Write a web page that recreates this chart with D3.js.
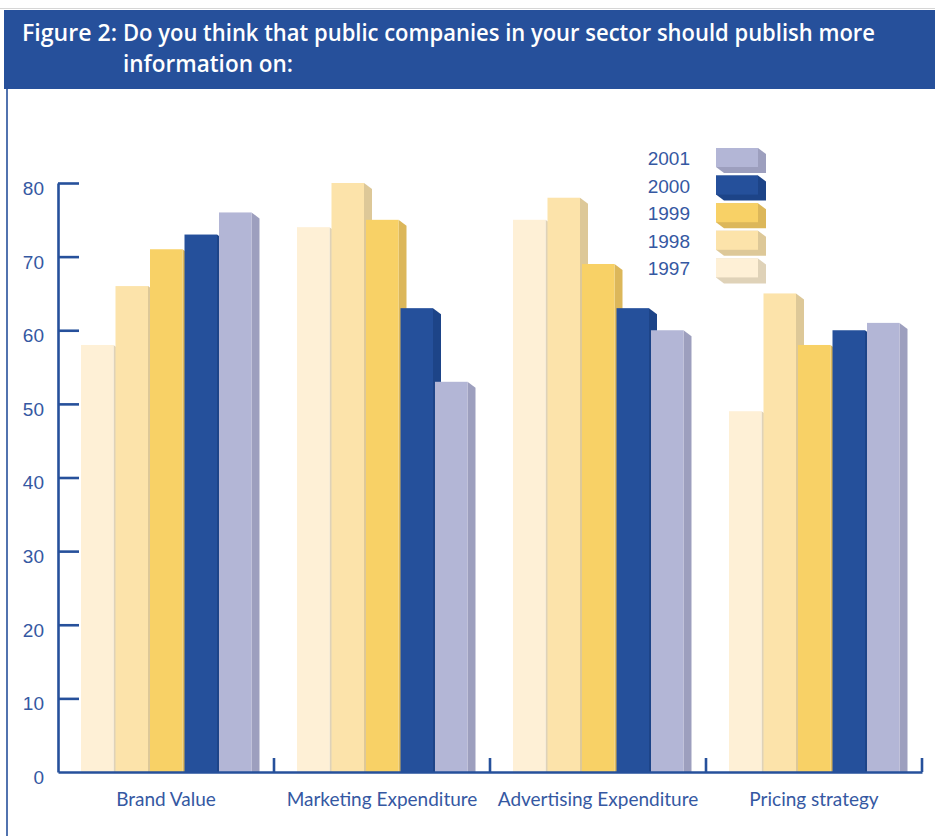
<!DOCTYPE html>
<html>
<head>
<meta charset="utf-8">
<script src="https://cdn.jsdelivr.net/npm/d3@7/dist/d3.min.js"></script>
<style>
  html, body { margin: 0; padding: 0; background: #ffffff; }
  svg { display: block; }
</style>
</head>
<body>
<svg id="chart" width="935" height="836"></svg>
<script>
// Survey answers (% saying "yes"), one array per survey year
const categories = ["Brand Value", "Marketing Expenditure", "Advertising Expenditure", "Pricing strategy"];
const years = ["1997", "1998", "1999", "2000", "2001"];
const values1997 = [58, 74, 75, 49];
const values1998 = [66, 80, 78, 65];
const values1999 = [71, 75, 69, 58];
const values2000 = [73, 63, 63, 60];
const values2001 = [76, 53, 60, 61];
const yTickValues = [0, 10, 20, 30, 40, 50, 60, 70, 80];
const legendOrder = ["2001", "2000", "1999", "1998", "1997"];

const seriesByYear = {
  "1997": values1997, "1998": values1998, "1999": values1999,
  "2000": values2000, "2001": values2001
};

// Front face and shaded side colour per year
const faceColor = { "1997": "#fef0d6", "1998": "#fce3aa", "1999": "#f8d166", "2000": "#25509b", "2001": "#b3b6d6" };
const sideColor = { "1997": "#dfd2b8", "1998": "#ddc898", "1999": "#dcb75a", "2000": "#1d4488", "2001": "#9d9fbe" };

const blue = "#26509b";
const textBlue = "#3558a2";

const svg = d3.select("#chart");

// Header band
svg.append("line").attr("x1", 0).attr("x2", 935).attr("y1", 8.5).attr("y2", 8.5)
  .attr("stroke", "#d6d6d6").attr("stroke-width", 1);
svg.append("rect").attr("x", 4).attr("y", 10).attr("width", 931).attr("height", 79).attr("fill", blue);
svg.append("line").attr("x1", 7).attr("x2", 7).attr("y1", 89).attr("y2", 836)
  .attr("stroke", blue).attr("stroke-width", 1.6);

const titleFont = "'Open Sans', 'Noto Sans', sans-serif";
const title = svg.append("g").attr("fill", "#ffffff").attr("font-family", titleFont)
  .attr("font-size", 23).attr("font-weight", 600);
title.append("text").attr("x", 22).attr("y", 41).text("Figure 2:")
  .attr("textLength", 95).attr("lengthAdjust", "spacingAndGlyphs");
title.append("text").attr("x", 123).attr("y", 41)
  .text("Do you think that public companies in your sector should publish more")
  .attr("textLength", 752).attr("lengthAdjust", "spacingAndGlyphs");
title.append("text").attr("x", 123).attr("y", 72).text("information on:")
  .attr("textLength", 170).attr("lengthAdjust", "spacingAndGlyphs");

// Scales
const x = d3.scaleBand().domain(categories).range([58, 922]).paddingInner(0).paddingOuter(0);
const xi = d3.scaleBand().domain(years).range([23, 195.5]).paddingInner(0);
const y = d3.scaleLinear().domain([0, 80]).range([772, 183]);

const faceW = xi.bandwidth() - 2;
const depthX = 8, depthY = 6;

// Bars: drawn left to right so each front face hides the previous bar's side
const bars = svg.append("g");
categories.forEach((cat, ci) => {
  years.forEach(yr => {
    const v = seriesByYear[yr][ci];
    const x0 = x(cat) + xi(yr);
    const x1 = x0 + faceW;
    const top = y(v), base = y(0);
    bars.append("polygon")
      .attr("points", [[x1, top], [x1 + depthX, top + depthY], [x1 + depthX, base], [x1, base]].join(" "))
      .attr("fill", sideColor[yr]);
    bars.append("rect")
      .attr("x", x0).attr("y", top).attr("width", faceW).attr("height", base - top)
      .attr("fill", faceColor[yr]);
  });
});

// Y axis: ticks point into the plot, labels on the left
const yAxis = d3.axisLeft(y).tickValues(yTickValues).tickSizeInner(-21).tickSizeOuter(0).tickPadding(14);
const gy = svg.append("g").attr("transform", "translate(58,0)").call(yAxis);
gy.select(".domain").attr("stroke", blue).attr("stroke-width", 2.6);
gy.selectAll(".tick line").attr("stroke", blue).attr("stroke-width", 2.6)
  .filter(d => d === 0).remove();
gy.selectAll(".tick text")
  .attr("fill", textBlue).attr("font-family", "'Liberation Sans', Arial, sans-serif")
  .attr("font-size", 19).attr("dy", d => d === 0 ? "0.62em" : "0.6em");

// X axis: baseline with short upward dividers between categories
const xAxis = d3.axisBottom(x).tickSize(0).tickFormat("");
const gx = svg.append("g").attr("transform", "translate(0,772)").call(xAxis);
gx.select(".domain").attr("stroke", blue).attr("stroke-width", 2.6);
const dividers = categories.map(c => x(c) + x.bandwidth());
svg.append("g").selectAll("line").data(dividers).join("line")
  .attr("x1", d => d).attr("x2", d => d).attr("y1", 758).attr("y2", 772)
  .attr("stroke", blue).attr("stroke-width", 2.6);

svg.append("g").selectAll("text").data(categories).join("text")
  .attr("x", d => x(d) + x.bandwidth() / 2).attr("y", 806)
  .attr("text-anchor", "middle").attr("fill", textBlue)
  .attr("font-family", "Lato, 'Open Sans', sans-serif").attr("font-size", 19)
  .text(d => d);

// Legend with extruded swatches
const legend = svg.append("g");
legendOrder.forEach((yr, i) => {
  const ly = 148 + i * 27.6;
  const lx = 716, lw = 42, lh = 19;
  legend.append("polygon")
    .attr("points", [[lx, ly], [lx + lw, ly], [lx + lw + depthX, ly + depthY], [lx + lw + depthX, ly + lh + depthY],
                     [lx + depthX, ly + lh + depthY], [lx, ly + lh]].join(" "))
    .attr("fill", sideColor[yr]);
  legend.append("rect").attr("x", lx).attr("y", ly).attr("width", lw).attr("height", lh)
    .attr("fill", faceColor[yr]);
  legend.append("text").attr("x", 690).attr("y", ly + 17)
    .attr("text-anchor", "end").attr("fill", textBlue)
    .attr("font-family", "'Liberation Sans', Arial, sans-serif").attr("font-size", 19)
    .text(yr);
});
</script>
</body>
</html>
